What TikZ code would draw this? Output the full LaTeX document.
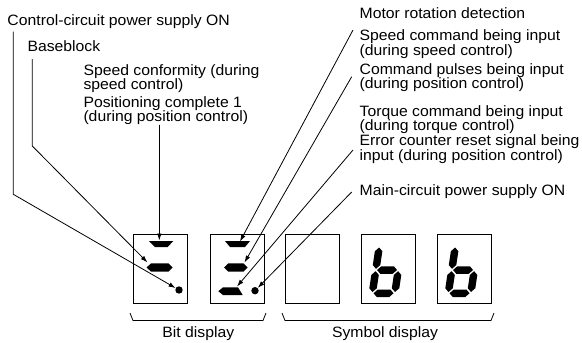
\documentclass[tikz,border=0pt]{standalone}
\usepackage{fontspec}
\setmainfont[FakeStretch=1.05]{Liberation Sans}
\usetikzlibrary{arrows.meta}
\begin{document}
\begin{tikzpicture}[x=1pt,y=-1pt,
  lbl/.style={anchor=base west, inner sep=0pt, align=left, font=\fontsize{15}{14.5}\selectfont},
  captext/.style={anchor=base, inner sep=0pt, font=\fontsize{15}{14.5}\selectfont},
  conn/.style={line width=0.8pt, -{Latex[length=7pt,width=4.6pt]}},
  dispbox/.style={draw, line width=1.3pt, minimum width=54pt, minimum height=69pt, inner sep=0pt, anchor=north west},
  seg/.style={fill=black},
  dotnode/.style={circle, fill=black, inner sep=0pt, minimum size=7.4pt},
  brace/.style={line width=0.8pt},
  bdig/.pic={
    \begin{scope}[xslant=0.15]
      \fill (3.75,-49.5) -- (7.5,-45.75) -- (7.5,-31.95) -- (3.75,-28.2) -- (0,-31.95) -- (0,-45.75) -- cycle;
      \fill (3.75,-25.8) -- (7.5,-22.05) -- (7.5,-8.75) -- (3.75,-5) -- (0,-8.75) -- (0,-22.05) -- cycle;
      \fill (26.25,-25.8) -- (30,-22.05) -- (30,-8.75) -- (26.25,-5) -- (22.5,-8.75) -- (22.5,-22.05) -- cycle;
      \fill (5,-3.75) -- (8.75,-7.5) -- (21.25,-7.5) -- (25,-3.75) -- (21.25,0) -- (8.75,0) -- cycle;
      \fill (5,-27) -- (8.75,-30.75) -- (21.25,-30.75) -- (25,-27) -- (21.25,-23.25) -- (8.75,-23.25) -- cycle;
    \end{scope}
  }]
\useasboundingbox (0,0) rectangle (582,343);

% display boxes
\node[dispbox] (box1) at (133,234) {};
\node[dispbox] (box2) at (209.5,234) {};
\node[dispbox] (box3) at (285,234) {};
\node[dispbox] (box4) at (361,234) {};
\node[dispbox] (box5) at (437,234) {};

% bit display segments, box 1
\fill[seg] (149,241) -- (173.3,241) -- (167.7,247) -- (155,247) -- cycle;
\fill[seg] (146.7,267.5) -- (151,263.3) -- (168.5,263.3) -- (172.7,267.5) -- (168.5,271.7) -- (151,271.7) -- cycle;
\node[dotnode] (dot1) at (179,290) {};
% box 2
\fill[seg] (225,241) -- (250,241) -- (245,247) -- (230,247) -- cycle;
\fill[seg] (224,267.5) -- (228.3,263.3) -- (243.5,263.3) -- (247.7,267.5) -- (243.5,271.7) -- (228.3,271.7) -- cycle;
\fill[seg] (218.3,291.2) -- (223,287.3) -- (238,287.3) -- (242.7,295) -- (223,295) -- cycle;
\node[dotnode] (dot2) at (255,290.7) {};

% symbol display digits
\pic at (368,297) {bdig};
\pic at (444,297) {bdig};

% labels (multi-line nodes are placed at the baseline of their last line)
\node[lbl] (ctrl) at (7.3,25) {Control-circuit power supply ON};
\node[lbl] (base) at (27.3,51.7) {Baseblock};
\node[lbl] (spdconf) at (83.3,89.5) {Speed conformity (during\\speed control)};
\node[lbl] (poscomp) at (83.3,121.7) {Positioning complete 1\\(during position control)};
\node[lbl] (motor) at (359.5,18) {Motor rotation detection};
\node[lbl] (spdcmd) at (359.5,55.2) {Speed command being input\\(during speed control)};
\node[lbl] (cmdpls) at (359.5,88.5) {Command pulses being input\\(during position control)};
\node[lbl] (trq) at (359.5,130.5) {Torque command being input\\(during torque control)};
\node[lbl] (err) at (359.5,160.2) {Error counter reset signal being\\input (during position control)};
\node[lbl] (mainps) at (359.5,195) {Main-circuit power supply ON};

% connector anchor points
\coordinate (ctrlS) at (13.3,31.5);
\coordinate (ctrlB) at (13.3,194.3);
\coordinate (baseS) at (32.3,59);
\coordinate (baseB) at (32.3,146);
\coordinate (m1) at (147.5,262.5);
\coordinate (confS) at (159.3,124.5);
\coordinate (t1) at (159.3,240.5);
\coordinate (motorS) at (353,30);
\coordinate (t2) at (240,241.5);
\coordinate (spdS) at (351.7,76.7);
\coordinate (m2) at (244.5,262.5);
\coordinate (trqS) at (353,150);
\coordinate (b2) at (237,286.5);
\coordinate (mainS) at (351.7,192);

% connectors
\draw[conn] (ctrlS) -- (ctrlB) -- (dot1);
\draw[conn] (baseS) -- (baseB) -- (m1);
\draw[conn] (confS) -- (t1);
\draw[conn] (motorS) -- (t2);
\draw[conn] (spdS) -- (m2);
\draw[conn] (trqS) -- (b2);
\draw[conn] (mainS) -- (dot2);

% brackets
\draw[brace] (130,313) -- (133,320.5) -- (263,320.5) -- (266,313);
\draw[brace] (282,313) -- (285,320.5) -- (491,320.5) -- (494,313);
\node[captext] (bitlbl) at (198.3,337.3) {Bit display};
\node[captext] (symlbl) at (385,337.3) {Symbol display};
\end{tikzpicture}
\end{document}
